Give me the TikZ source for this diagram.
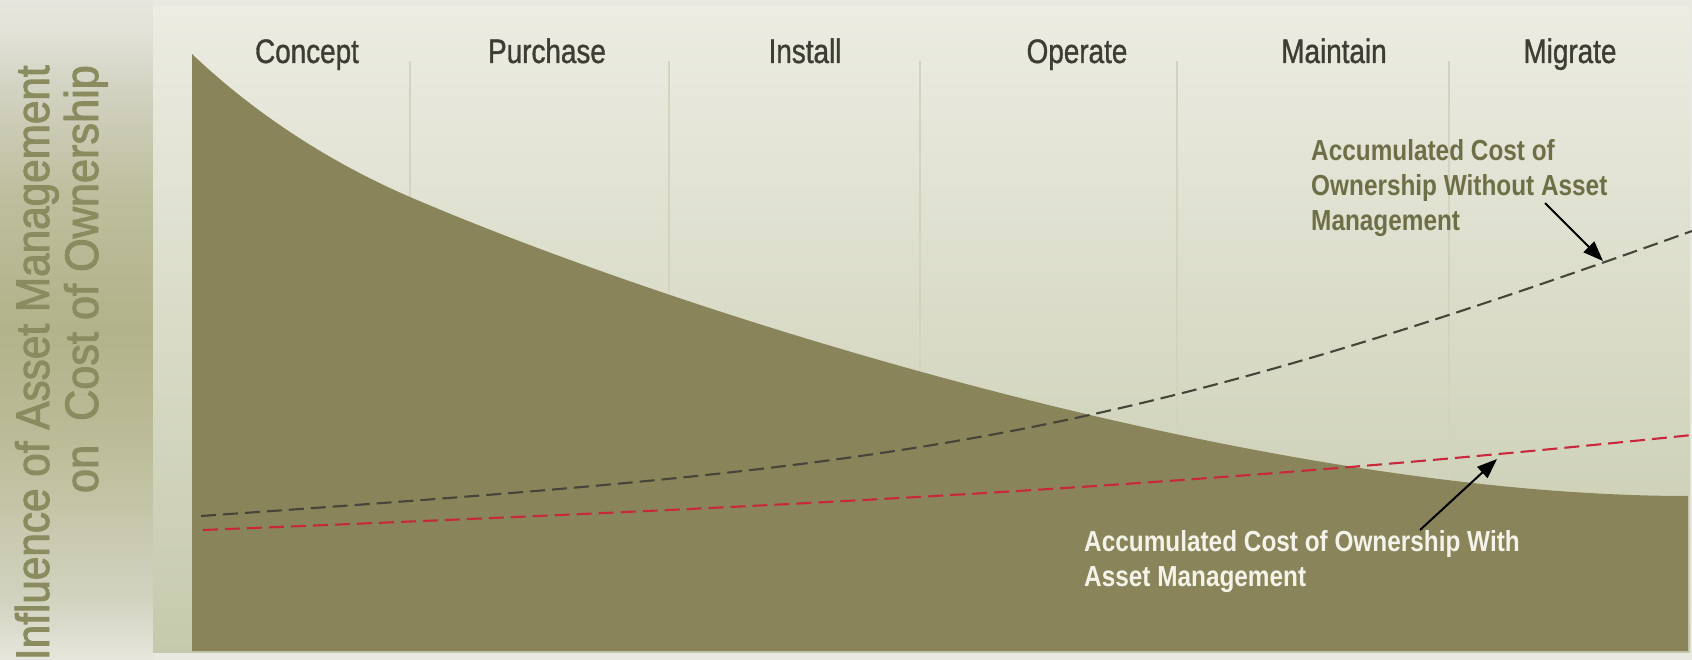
\documentclass[tikz,border=0pt]{standalone}
\usepackage{fontspec}
\setmainfont{Liberation Sans}
\newfontfamily\labfont[FakeStretch=0.82, FakeBold=1]{Liberation Sans}
\newfontfamily\annfont[FakeStretch=0.84]{Liberation Sans Bold}
\newfontfamily\sidefont[FakeStretch=0.92, FakeBold=2]{Liberation Sans}
\newfontfamily\sidefontA[FakeStretch=0.90, FakeBold=2]{Liberation Sans}
\usetikzlibrary{arrows.meta}
\definecolor{bgc}{HTML}{E9E9E1}
\definecolor{panelTop}{HTML}{ECECE2}
\definecolor{panelBot}{HTML}{C6CAAC}
\definecolor{sA}{HTML}{E6E6DE}
\definecolor{sA2}{HTML}{E2E2D8}
\definecolor{sD2}{HTML}{D0D0BE}
\definecolor{sC2}{HTML}{BDBE9C}
\definecolor{sB}{HTML}{B2B38A}
\definecolor{sC}{HTML}{BCBD99}
\definecolor{sD}{HTML}{D2D3C0}
\definecolor{sE}{HTML}{E6E6DC}
\definecolor{olivefill}{HTML}{898459}
\definecolor{sepc}{HTML}{D4D4BE}
\definecolor{labc}{HTML}{3D3D33}
\definecolor{annc}{HTML}{6F6F47}
\definecolor{annw}{HTML}{F3F3EA}
\definecolor{sidec}{HTML}{8A8B5F}
\definecolor{darkdash}{HTML}{45453A}
\definecolor{reddash}{HTML}{C9283C}
\pgfdeclareverticalshading{leftstrip}{100bp}{color(0bp)=(sE); color(25bp)=(sE); color(29.5bp)=(sD); color(41bp)=(sC); color(50bp)=(sB); color(60bp)=(sC2); color(67.4bp)=(sD2); color(72.7bp)=(sA2); color(75bp)=(sA); color(100bp)=(sA)}
\tikzset{
  lab/.style={font=\labfont\fontsize{34}{40}\selectfont, text=labc, inner sep=0pt, anchor=base},
  ann/.style={font=\annfont\fontsize{29}{35}\selectfont, inner sep=0pt, anchor=base west},
  side/.style={font=\sidefont\fontsize{47}{50}\selectfont, text=sidec, inner sep=0pt, rotate=90, anchor=base east},
  costline/.style={line width=2.1pt, dash pattern=on 15pt off 7pt},
  sep/.style={draw=sepc, line width=2.7pt},
  arr/.style={draw=black, line width=2pt, -{Triangle[length=20pt,width=15pt]}}
}
\begin{document}
\begin{tikzpicture}[x=1pt,y=-1pt]
\useasboundingbox (0,0) rectangle (1692,660);
\fill[bgc] (0,0) rectangle (1692,660);
\shade[shading=leftstrip] (0,0) rectangle (153,660);
\shade[top color=panelTop, bottom color=panelBot] (153,7) rectangle (1690,652);
% separators
\foreach \xx in {410,669,920,1177,1449} \draw[sep] (\xx,61) -- (\xx,640);
% influence area
\fill[olivefill] (192,651) -- (192,54) .. controls (262,120.5) and (340,166.9) .. (410,197)
  .. controls (680,313) and (1258,496) .. (1688,496) -- (1688,651) -- cycle;
% cost curves
\coordinate (b0) at (201,516);
\coordinate (b1) at (1692,231);
\coordinate (r0) at (203,530);
\coordinate (r1) at (1692,435);
\draw[costline, draw=darkdash] (b0) .. controls (901,467) and (1092,447) .. (b1);
\draw[costline, draw=reddash] (r0) .. controls (803,506) and (1192,487) .. (r1);
% phase labels
\node[lab] (concept) at (307,63) {Concept};
\node[lab] (purchase) at (547,63) {Purchase};
\node[lab] (install) at (805,63) {Install};
\node[lab] (operate) at (1077,63) {Operate};
\node[lab] (maintain) at (1334,63) {Maintain};
\node[lab] (migrate) at (1570,63) {Migrate};
% side title
\node[side, font=\sidefontA\fontsize{47}{50}\selectfont] (side1) at (49,65) {Influence of Asset Management};
\node[side] (side2) at (98,65) {on\ \ Cost of Ownership};
% annotations
\node[ann, text=annc] (w1) at (1311,161) {Accumulated Cost of};
\node[ann, text=annc] (w2) at (1311,196) {Ownership Without Asset};
\node[ann, text=annc] (w3) at (1311,231) {Management};
\node[ann, text=annw] (m1) at (1084,551) {Accumulated Cost of Ownership With};
\node[ann, text=annw] (m2) at (1084,586) {Asset Management};
% arrows
\coordinate (a1s) at (1545,203);
\coordinate (a1e) at (1603,261);
\coordinate (a2s) at (1420,530);
\coordinate (a2e) at (1497,459);
\draw[arr] (a1s) -- (a1e);
\draw[arr] (a2s) -- (a2e);
\end{tikzpicture}
\end{document}
